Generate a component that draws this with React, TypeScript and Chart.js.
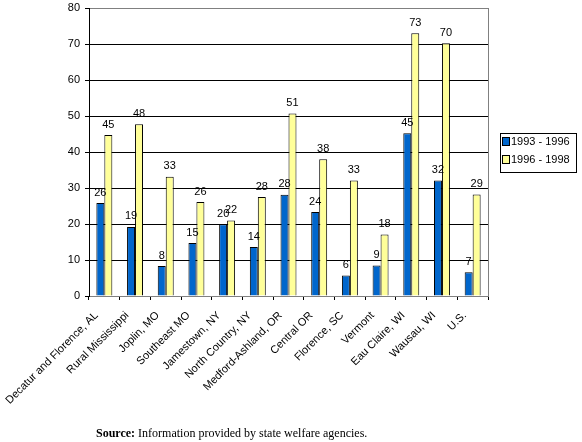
import React, { useEffect, useRef } from "react";
import { Chart, registerables } from "chart.js";

Chart.register(...registerables);

const categories = [
  "Decatur and Florence, AL",
  "Rural Mississippi",
  "Joplin, MO",
  "Southeast MO",
  "Jamestown, NY",
  "North Country, NY",
  "Medford-Ashland, OR",
  "Central OR",
  "Florence, SC",
  "Vermont",
  "Eau Claire, WI",
  "Wausau, WI",
  "U.S.",
];

const series1Name = "1993 - 1996";
const series2Name = "1996 - 1998";

const series1Values = [25.8, 19.2, 8.3, 14.7, 19.9, 13.6, 28.1, 23.3, 5.7, 8.5, 45.2, 32.1, 6.6];
const series2Values = [44.7, 47.7, 33.1, 26.1, 21.0, 27.5, 50.7, 38.0, 32.1, 17.1, 73.0, 70.2, 28.2];

const series1Labels = ["26", "19", "8", "15", "20", "14", "28", "24", "6", "9", "45", "32", "7"];
const series2Labels = ["45", "48", "33", "26", "22", "28", "51", "38", "33", "18", "73", "70", "29"];

const yTicks = [0, 10, 20, 30, 40, 50, 60, 70, 80];

const BLUE = "#0066CC";
const YELLOW = "#FFFF99";
const FONT = "'Liberation Sans', Arial, sans-serif";

const dataLabelPlugin = {
  id: "dataLabels",
  afterDatasetsDraw(chart: any) {
    const ctx = chart.ctx;
    const labelSets = [series1Labels, series2Labels];
    ctx.save();
    ctx.font = `11px ${FONT}`;
    ctx.fillStyle = "#000";
    ctx.textAlign = "center";
    ctx.textBaseline = "bottom";
    chart.data.datasets.forEach((_ds: any, di: number) => {
      const meta = chart.getDatasetMeta(di);
      meta.data.forEach((bar: any, i: number) => {
        ctx.fillText(labelSets[di][i], bar.x, bar.y - 5);
      });
    });
    ctx.restore();
  },
};

const frameLegendPlugin = {
  id: "frameLegend",
  afterDraw(chart: any) {
    const ctx = chart.ctx;
    const area = chart.chartArea;
    ctx.save();
    // right border of plot area
    ctx.strokeStyle = "#808080";
    ctx.lineWidth = 1;
    ctx.beginPath();
    ctx.moveTo(Math.round(area.right) + 0.5, Math.round(area.top));
    ctx.lineTo(Math.round(area.right) + 0.5, Math.round(area.bottom));
    ctx.stroke();

    // legend box
    const bx = 500, by = 133, bw = 76, bh = 39;
    ctx.strokeStyle = "#000";
    ctx.strokeRect(bx + 0.5, by + 0.5, bw, bh);
    ctx.font = `11px ${FONT}`;
    ctx.textAlign = "left";
    ctx.textBaseline = "middle";
    chart.data.datasets.forEach((ds: any, i: number) => {
      const cy = by + 8 + i * 18;
      ctx.fillStyle = ds.backgroundColor;
      ctx.fillRect(bx + 3, cy - 3, 6, 7);
      ctx.strokeStyle = "#000";
      ctx.strokeRect(bx + 2.5, cy - 3.5, 7, 8);
      ctx.fillStyle = "#000";
      ctx.fillText(ds.label, bx + 11, cy + 1);
    });
    ctx.restore();
  },
};

export default function App() {
  const canvasRef = useRef<HTMLCanvasElement | null>(null);

  useEffect(() => {
    if (!canvasRef.current) return;
    const chart = new Chart(canvasRef.current, {
      type: "bar",
      data: {
        labels: categories,
        datasets: [
          {
            label: series1Name,
            data: series1Values,
            backgroundColor: BLUE,
            borderColor: "#000",
            borderWidth: 1,
          },
          {
            label: series2Name,
            data: series2Values,
            backgroundColor: YELLOW,
            borderColor: "#000",
            borderWidth: 1,
          },
        ],
      },
      options: {
        responsive: false,
        animation: false,
        devicePixelRatio: 1,
        layout: { padding: { left: 0, right: 94, top: 8, bottom: 0 } },
        datasets: {
          bar: { categoryPercentage: 0.52, barPercentage: 1 },
        },
        plugins: {
          legend: { display: false },
          tooltip: { enabled: false },
        },
        scales: {
          x: {
            offset: true,
            grid: {
              display: true,
              offset: true,
              drawOnChartArea: false,
              drawTicks: true,
              tickLength: 4,
              color: "#000",
            },
            border: { display: true, color: "#808080" },
            ticks: {
              autoSkip: false,
              minRotation: 45,
              maxRotation: 45,
              padding: 9,
              labelOffset: -8,
              color: "#000",
              font: { family: FONT, size: 11 },
            },
            afterFit: (scale: any) => {
              scale.height = 146;
              scale.paddingLeft = 0;
              scale.paddingRight = 0;
            },
          },
          y: {
            min: 0,
            max: 80,
            afterBuildTicks: (scale: any) => {
              scale.ticks = yTicks.map((v) => ({ value: v }));
            },
            grid: {
              color: (c: any) => (c.tick && (c.tick.value === 80 || c.tick.value === 0) ? "#808080" : "#000"),
              tickColor: "#000",
              tickLength: 4,
              drawTicks: true,
            },
            border: { display: true, color: "#000" },
            ticks: {
              padding: 5,
              color: "#000",
              font: { family: FONT, size: 11 },
            },
            afterFit: (scale: any) => {
              scale.width = 89;
              scale.paddingTop = 0;
              scale.paddingBottom = 0;
            },
          },
        },
      },
      plugins: [dataLabelPlugin, frameLegendPlugin],
    });
    return () => chart.destroy();
  }, []);

  return (
    <div style={{ position: "absolute", left: 0, top: 0, width: 582, height: 442, background: "#fff" }}>
      <canvas ref={canvasRef} width={582} height={442} style={{ display: "block" }} />
      <div
        style={{
          position: "absolute",
          left: 96,
          top: 426,
          fontFamily: "'Liberation Serif', 'Times New Roman', serif",
          fontSize: 12,
          lineHeight: "14px",
          color: "#000",
          whiteSpace: "nowrap",
        }}
      >
        <b>Source:</b> Information provided by state welfare agencies.
      </div>
    </div>
  );
}
